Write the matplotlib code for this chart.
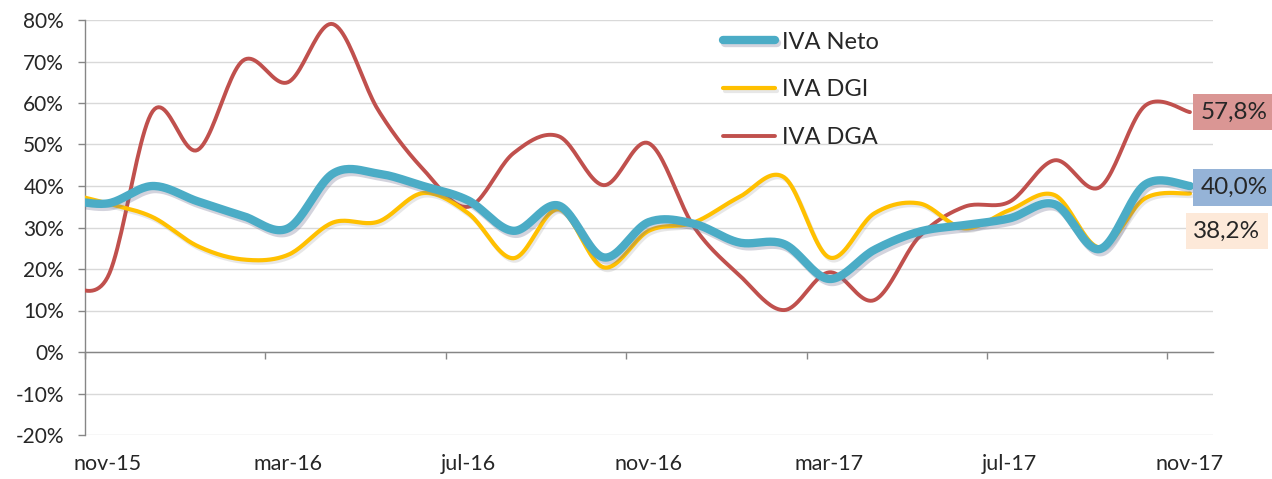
import numpy as np
import matplotlib
matplotlib.use("Agg")
import matplotlib.pyplot as plt
import matplotlib.patheffects as pe

plt.rcParams['font.family'] = ['Lato', 'DejaVu Sans']

# ---- data (monthly, oct-15 .. nov-17; oct-15 lies just left of the visible area) ----
months = ['oct-15', 'nov-15', 'dic-15', 'ene-16', 'feb-16', 'mar-16', 'abr-16', 'may-16',
          'jun-16', 'jul-16', 'ago-16', 'sep-16', 'oct-16', 'nov-16', 'dic-16', 'ene-17',
          'feb-17', 'mar-17', 'abr-17', 'may-17', 'jun-17', 'jul-17', 'ago-17', 'sep-17',
          'oct-17', 'nov-17']
iva_neto = [37.0, 35.8, 40.0, 36.3, 32.8, 29.8, 43.0, 43.0, 40.0, 36.5, 29.2, 35.3, 22.8,
            31.3, 30.9, 26.4, 26.0, 17.6, 24.6, 29.0, 30.6, 32.2, 35.6, 24.8, 40.3, 40.0]
iva_dgi = [38.5, 35.8, 32.5, 25.5, 22.3, 23.4, 31.2, 31.4, 38.3, 33.4, 22.6, 34.4, 20.4,
           29.2, 31.2, 37.3, 42.1, 22.8, 33.4, 35.8, 29.8, 34.2, 37.8, 25.2, 37.0, 38.2]
iva_dga = [17.0, 18.0, 58.0, 48.7, 70.2, 65.0, 79.0, 58.3, 44.0, 35.0, 47.9, 52.0, 40.2,
           50.3, 30.2, 18.6, 10.1, 19.2, 12.5, 27.8, 35.0, 36.2, 46.2, 39.7, 59.3, 57.8]
shown_labels = ['nov-15', 'mar-16', 'jul-16', 'nov-16', 'mar-17', 'jul-17', 'nov-17']
end_labels = ['40,0%', '38,2%', '57,8%']
series_names = ['IVA Neto', 'IVA DGI', 'IVA DGA']
yticks = list(range(-20, 81, 10))


def smooth(x, y, n=24):
    """Excel-like smoothing: cubic Bezier with Catmull-Rom control points."""
    x = np.asarray(x, float)
    y = np.asarray(y, float)
    px = np.concatenate([[x[0]], x, [x[-1]]])
    py = np.concatenate([[y[0]], y, [y[-1]]])
    t = np.linspace(0, 1, n)[:, None]
    xs, ys = [], []
    for i in range(1, len(px) - 2):
        P = np.array([[px[i], py[i]],
                      [px[i] + (px[i + 1] - px[i - 1]) / 6, py[i] + (py[i + 1] - py[i - 1]) / 6],
                      [px[i + 1] - (px[i + 2] - px[i]) / 6, py[i + 1] - (py[i + 2] - py[i]) / 6],
                      [px[i + 1], py[i + 1]]])
        B = ((1 - t) ** 3) * P[0] + 3 * ((1 - t) ** 2) * t * P[1] + 3 * (1 - t) * t ** 2 * P[2] + t ** 3 * P[3]
        xs.append(B[:, 0])
        ys.append(B[:, 1])
    return np.concatenate(xs), np.concatenate(ys)


x = np.arange(len(months)) - 1  # oct-15 -> -1, nov-15 -> 0

fig = plt.figure(figsize=(12.72, 4.79), dpi=100)
ax = fig.add_axes([85 / 1272, 44 / 479, 1127.5 / 1272, 415 / 479])

c_neto, c_dgi, c_dga = '#4BACC6', '#FFC000', '#C0504D'

sx, sy = smooth(x, iva_dga)
l_dga, = ax.plot(sx, sy, color=c_dga, lw=2.8, label=series_names[2], zorder=3,
                 solid_capstyle='round')
sx, sy = smooth(x, iva_dgi)
l_dgi, = ax.plot(sx, sy, color=c_dgi, lw=3.0, label=series_names[1], zorder=4,
                 solid_capstyle='round',
                 path_effects=[pe.SimpleLineShadow(offset=(1.2, -1.8), shadow_color='#7f7f7f',
                                                   alpha=0.18), pe.Normal()])
sx, sy = smooth(x, iva_neto)
l_neto, = ax.plot(sx, sy, color=c_neto, lw=6.0, label=series_names[0], zorder=5,
                  solid_capstyle='round',
                  path_effects=[pe.SimpleLineShadow(offset=(1.5, -2.2), shadow_color='#6f6f8f',
                                                    alpha=0.3), pe.Normal()])

ax.set_xlim(-0.5, 24.5)
ax.set_ylim(-20, 80)

# grid and spines
ax.set_yticks(yticks)
ax.set_yticklabels([f'{v}%' for v in yticks])
ax.yaxis.grid(True, color='#D9D9D9', lw=1.0, zorder=0)
ax.set_axisbelow(True)
for s in ['top', 'right']:
    ax.spines[s].set_visible(False)
ax.spines['left'].set_color('#868686')
ax.spines['left'].set_linewidth(1.0)
ax.spines['bottom'].set_position(('data', 0))
ax.spines['bottom'].set_color('#868686')
ax.spines['bottom'].set_linewidth(1.0)
ax.spines['bottom'].set_zorder(1)

ax.set_xticks(np.arange(-0.5, 24, 4))
ax.set_xticklabels([])
ax.tick_params(axis='x', direction='out', length=5, width=1.0, color='#868686')
ax.tick_params(axis='y', direction='out', length=5, width=1.0, color='#868686',
               labelsize=15, labelcolor='#262626', pad=10)

sec = ax.secondary_xaxis('bottom')
sec.set_xticks(np.arange(0, 25, 4))
sec.set_xticklabels(shown_labels)
sec.tick_params(length=0, pad=14, labelsize=15.5, labelcolor='#262626')
sec.spines['bottom'].set_visible(False)

# legend
leg = ax.legend(handles=[l_neto, l_dgi, l_dga], loc='upper left',
                bbox_to_anchor=(0.566, 0.972), frameon=False,
                fontsize=17, handlelength=2.2, handletextpad=0.3, labelspacing=1.13,
                borderpad=0, borderaxespad=0)
for t in leg.get_texts():
    t.set_color('#262626')

# end-point data labels
ann = [(iva_neto[-1], end_labels[0], '#95B3D7', (8.0, -1)),
       (iva_dgi[-1], end_labels[1], '#FDE9D9', (2.5, -27)),
       (iva_dga[-1], end_labels[2], '#DA9694', (8.0, 0))]
for val, txt, fc, off in ann:
    ax.annotate(txt, xy=(24, val), xytext=off, textcoords='offset points',
                ha='left', va='center', fontsize=17.5, color='#262626', annotation_clip=False,
                bbox=dict(boxstyle='square,pad=0.32', fc=fc, ec='none'), zorder=6)

fig.savefig('out.png', dpi=100)
